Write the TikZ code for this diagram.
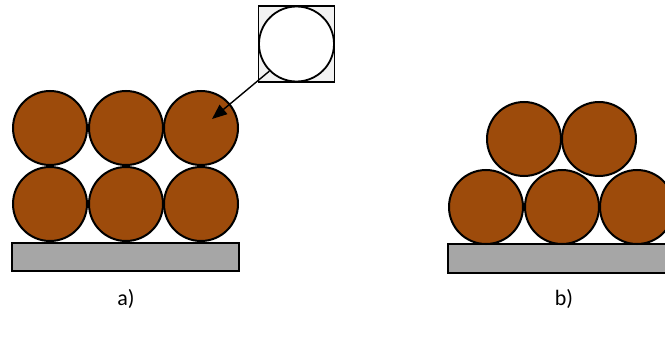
\documentclass[tikz,border=0pt]{standalone}
\usepackage{fontspec}
\setmainfont{Carlito}
\usetikzlibrary{arrows.meta}
\definecolor{grain}{RGB}{157,75,11}
\definecolor{plate}{RGB}{166,166,166}
\definecolor{boxfill}{RGB}{242,242,242}
\begin{document}
\begin{tikzpicture}[x=1pt,y=-1pt,
  grainc/.style={circle,draw=black,line width=2pt,fill=grain,minimum size=74pt,inner sep=0pt},
  platebox/.style={draw=black,line width=1.2pt,fill=plate},
  lbl/.style={font=\fontsize{22}{26}\selectfont,inner sep=0pt}]
\useasboundingbox (0,0) rectangle (665,337);
\clip (0,0) rectangle (665,337);
% a) base
\draw[platebox] (12,243) rectangle (239,271);
% a) grains
\node[grainc] (a11) at (50,128) {};
\node[grainc] (a12) at (126,128) {};
\node[grainc] (a13) at (201,128) {};
\node[grainc] (a21) at (50,204) {};
\node[grainc] (a22) at (126,204) {};
\node[grainc] (a23) at (201,204) {};
% zoom box
\node[draw=black,line width=1.2pt,fill=boxfill,minimum size=76pt,inner sep=0pt] (zbox) at (296.5,44) {};
\node[circle,draw=black,line width=1.8pt,fill=white,minimum size=75pt,inner sep=0pt] (zc) at (296.5,44) {};
\coordinate (tip) at (212,119);
\draw[line width=1.4pt,-{Triangle[length=15pt,width=12pt]}] (zc.225) -- (tip);
% b) base
\draw[platebox] (448,244) rectangle (680,273);
% b) grains
\node[grainc] (b21) at (486,207) {};
\node[grainc] (b22) at (562,207) {};
\node[grainc] (b23) at (637,207) {};
\node[grainc] (b11) at (524,139) {};
\node[grainc] (b12) at (599,139) {};
% labels
\node[lbl] (la) at (126,299) {a)};
\node[lbl] (lb) at (564,299) {b)};
\end{tikzpicture}
\end{document}
